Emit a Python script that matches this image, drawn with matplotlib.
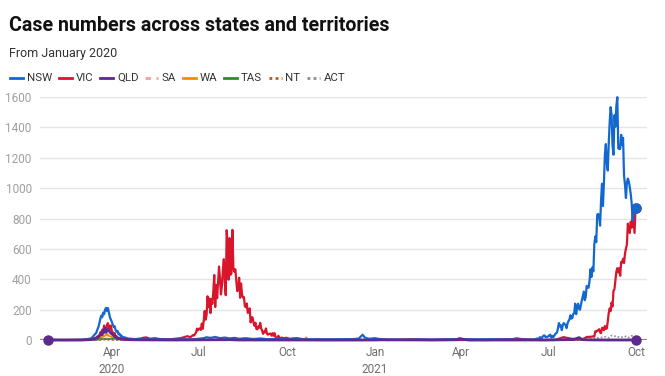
import matplotlib.pyplot as plt
from matplotlib.lines import Line2D
import numpy as np

plt.rcParams["font.family"] = ["Roboto", "DejaVu Sans"]

# day 0 is 25 January 2020
START = np.datetime64("2020-01-25")

# NSW: a few readings in the quiet stretches, daily counts through the waves
nsw_pre_days = [0, 6, 12, 20, 28, 36, 40, 43]
nsw_pre = [0, 1, 0, 0, 1, 2, 4, 8]
nsw_wave1_start = 44
nsw_wave1 = [8, 10, 14, 20, 28, 36, 40, 52, 70, 85, 110, 140, 160, 150, 180, 170,
             200, 212, 190, 210, 180, 150, 135, 120, 100, 85, 90, 65, 55, 60, 38,
             42, 28, 30, 20, 15, 18]
nsw_mid_days = [84, 90, 97, 105, 115, 128, 140, 150, 158, 163, 166, 170, 175, 180,
                185, 190, 195, 200, 207, 215, 222, 230, 240, 250, 260, 270, 281,
                295, 311, 320, 325, 327, 328, 329, 330, 331, 333, 336, 339, 342,
                345, 350, 360, 373, 390, 401, 420, 432, 450, 462, 480, 493, 500, 507]
nsw_mid = [10, 6, 8, 4, 6, 3, 5, 4, 8, 12, 18, 14, 20, 12, 16, 10, 14, 8, 12, 6,
           10, 5, 7, 4, 6, 3, 5, 4, 5, 6, 10, 23, 30, 35, 26, 18, 12, 8, 10, 12,
           8, 5, 3, 2, 4, 3, 5, 6, 4, 5, 4, 3, 2, 3]
nsw_wave3_start = 508
nsw_wave3 = [3, 4, 7, 10, 5, 10, 18, 16, 11, 22, 29, 30, 19, 18, 22,
             24, 31, 35, 16, 27, 18, 27, 38, 44, 50, 77, 112, 89, 97, 65, 97,
             111, 105, 98, 78, 110, 124, 136, 163, 141, 145, 172, 177, 239, 170, 210,
             239, 207, 199, 233, 262, 291, 319, 262, 283, 356, 344, 345, 390, 466,
             415, 478, 452, 633, 681, 644, 825, 830, 818, 753, 919, 1029, 882, 1035,
             1218, 1290, 1164,
             1116, 1288, 1431, 1533, 1485, 1281, 1220, 1480, 1405, 1542, 1599, 1262,
             1257, 1259, 1351, 1284, 1331, 1083, 1022, 935, 1035, 1063, 1043, 1007,
             961, 900, 787, 820, 863, 868]

# VIC
vic_pre_days = [0, 10, 20, 30, 36, 40, 44]
vic_pre = [0, 0, 0, 0, 0, 1, 2]
vic_wave1_start = 45
vic_wave1 = [3, 4, 6, 8, 12, 14, 18, 23, 27, 30, 50, 42, 68, 55, 95, 60, 52, 100,
             111, 85, 70, 95, 60, 50, 30, 45, 20, 25, 12, 15, 8, 10, 6, 8, 5, 4]
vic_mid1_days = [88, 97, 100, 103, 107, 112, 118, 125, 130, 136, 140, 143, 146, 149]
vic_mid1 = [3, 8, 15, 17, 8, 12, 5, 4, 6, 10, 14, 20, 25, 18]
vic_wave2_start = 152
vic_wave2 = [33, 30, 41, 49, 75, 64,
             73, 77, 66, 108, 74, 127, 191, 134, 165, 288, 216, 273, 177, 270, 238,
             317, 428, 217, 363, 275, 374, 484, 403, 300, 357, 459, 532, 384, 295,
             723, 627,
             397, 671, 429, 439, 725, 471, 450, 466, 394, 322, 331, 410, 278, 372,
             303, 279, 282, 222, 216, 240, 179, 182, 208, 116, 148, 149, 113, 94,
             114, 73, 70,
             90, 81, 113, 76, 63, 41, 55, 51, 76, 43, 35, 41, 41, 42, 28, 45, 28,
             45, 21, 14, 11, 28, 15, 14, 12, 16, 5, 12, 9, 15]
vic_mid2_days = [253, 257, 261, 265, 270, 275, 281, 300, 330, 342, 345, 355, 385,
                 390, 400, 430, 460, 485, 490, 495, 500, 505, 515, 530, 536, 539,
                 542, 546, 550, 554, 560, 563, 567]
vic_mid2 = [8, 11, 12, 7, 2, 1, 0, 0, 0, 3, 2, 0, 5, 2, 0, 0, 0, 5, 11, 6, 4, 2,
            0, 0, 13, 19, 14, 10, 5, 6, 8, 20, 21]
vic_wave3_start = 570
vic_wave3 = [24, 24, 57, 55, 61, 65, 71, 50, 45, 80, 79, 64, 92, 73, 76,
             120, 176, 208, 190, 246, 221, 324, 334, 392, 450, 473, 445, 473, 423,
             514, 510, 535, 507, 567, 603, 628, 766, 733, 705, 779, 740, 847, 779,
             705, 867]

# smaller states and territories
qld_days = [0, 20, 36, 43, 47, 50, 52, 54, 56, 57, 58, 59, 60, 61, 62, 63, 64, 65,
            66, 68, 69, 71, 73, 76, 80, 86, 97, 130, 190, 200, 250, 300, 340, 350,
            400, 428, 430, 433, 436, 440, 460, 500, 520, 548, 552, 555, 556, 557,
            560, 565, 580, 600, 614]
qld = [0, 0, 0, 2, 5, 10, 15, 25, 40, 35, 60, 50, 78, 50, 65, 70, 60, 55, 45, 35,
       30, 20, 10, 8, 4, 2, 1, 0, 2, 0, 0, 0, 0, 1, 0, 2, 10, 6, 3, 0, 0, 0, 0, 3,
       9, 16, 13, 4, 2, 1, 0, 0, 0]
sa_days = [0, 40, 45, 50, 53, 55, 57, 59, 61, 62, 63, 65, 67, 69, 72, 76, 80, 90,
           200, 293, 295, 297, 299, 302, 306, 315, 450, 614]
sa = [0, 0, 1, 5, 8, 15, 20, 30, 50, 35, 40, 25, 20, 10, 5, 2, 1, 0, 0, 1, 4, 7,
      5, 3, 1, 0, 0, 1]
wa_days = [0, 40, 45, 50, 54, 57, 59, 61, 63, 65, 67, 70, 74, 80, 90, 100, 200,
           268, 270, 272, 400, 614]
wa = [0, 0, 1, 4, 10, 20, 25, 35, 30, 25, 20, 12, 5, 2, 1, 0, 0, 0, 17, 0, 0, 0]
tas_days = [0, 45, 50, 55, 60, 65, 70, 73, 76, 80, 85, 90, 100, 614]
tas = [0, 0, 1, 5, 8, 6, 10, 15, 12, 8, 5, 2, 0, 0]
nt_days = [0, 50, 55, 60, 65, 70, 80, 614]
nt = [0, 0, 1, 3, 2, 1, 0, 0]
act_days = [0, 50, 55, 60, 63, 66, 70, 75, 85, 560, 565, 567, 570, 573, 576, 580,
            583, 586, 589, 592, 595, 598, 601, 604, 607, 610, 613, 614]
act = [0, 0, 2, 8, 10, 6, 3, 1, 0, 0, 1, 6, 13, 12, 15, 18, 22, 14, 30, 26, 19,
       22, 17, 24, 15, 28, 18, 20]

tick_dates = ["2020-04-01", "2020-07-01", "2020-10-01", "2021-01-01",
              "2021-04-01", "2021-07-01", "2021-10-01"]
tick_labels = ["Apr\n2020", "Jul", "Oct", "Jan\n2021", "Apr", "Jul", "Oct"]
y_ticks = [0, 200, 400, 600, 800, 1000, 1200, 1400, 1600]


def daily(start, values):
    return list(range(start, start + len(values))), list(values)


def stitch(*blocks):
    days, values = [], []
    for d, v in blocks:
        days += list(d)
        values += list(v)
    return START + np.array(days).astype("timedelta64[D]"), np.array(values)


nsw_x, nsw_y = stitch((nsw_pre_days, nsw_pre), daily(nsw_wave1_start, nsw_wave1),
                      (nsw_mid_days, nsw_mid), daily(nsw_wave3_start, nsw_wave3))
vic_x, vic_y = stitch((vic_pre_days, vic_pre), daily(vic_wave1_start, vic_wave1),
                      (vic_mid1_days, vic_mid1), daily(vic_wave2_start, vic_wave2),
                      (vic_mid2_days, vic_mid2), daily(vic_wave3_start, vic_wave3))
qld_x, qld_y = stitch((qld_days, qld))

# name, x, y, colour, linestyle, width, zorder
series = [
    ("NSW", nsw_x, nsw_y, "#1368d0", "-", 1.6, 6),
    ("VIC", vic_x, vic_y, "#d9152b", "-", 1.6, 5),
    ("QLD", qld_x, qld_y, "#5f2a8e", "-", 2.0, 7),
    ("SA", *stitch((sa_days, sa)), "#f2a1a8", (0, (2, 2)), 1.4, 4),
    ("WA", *stitch((wa_days, wa)), "#f28e00", "-", 1.4, 4),
    ("TAS", *stitch((tas_days, tas)), "#2e8b2e", "-", 1.4, 4),
    ("NT", *stitch((nt_days, nt)), "#b8581f", (0, (1, 1.2)), 1.4, 4),
    ("ACT", *stitch((act_days, act)), "#8c8c8c", (0, (1, 1.2)), 1.2, 4),
]

fig = plt.figure(figsize=(6.65, 3.76), dpi=100)
W, H = 665, 376
ax = fig.add_axes([40 / W, 1 - 340 / H, (647 - 40) / W, (340 - 97) / H])

for name, x, y, color, ls, lw, z in series:
    ax.plot(x, y, color=color, linestyle=ls, lw=lw, zorder=z, clip_on=False,
            solid_joinstyle="round")

# end markers
ax.plot(qld_x[0], qld_y[0], "o", color="#5b2a8c", ms=6.5, zorder=9, clip_on=False)
ax.plot(vic_x[-1], vic_y[-1], "o", color="#d9152b", ms=6.5, zorder=8, clip_on=False)
ax.plot(qld_x[-1], qld_y[-1], "o", color="#5b2a8c", ms=6.5, zorder=9, clip_on=False)
ax.plot(nsw_x[-1], nsw_y[-1], "o", color="#1368d0", ms=6.5, zorder=9, clip_on=False)

ax.set_xlim(np.datetime64("2020-01-17"), np.datetime64("2021-10-12"))
ax.set_ylim(0, 1600)
ax.set_yticks(y_ticks)
ax.set_xticks(np.array(tick_dates, dtype="datetime64[D]"))
ax.set_xticklabels(tick_labels, linespacing=1.45)
ax.tick_params(axis="y", length=0, pad=6, labelsize=8.5, labelcolor="#a0a0a0")
ax.tick_params(axis="x", length=0, pad=4, labelsize=8.5, labelcolor="#6e6e6e")
ax.grid(axis="y", color="#e5e5e5", lw=1)
ax.set_axisbelow(True)
for s in ax.spines.values():
    s.set_visible(False)
ax.axhline(0, color="#8a8a8a", lw=1.6, zorder=2)

# titles
fig.text(9 / W, 1 - 31 / H, "Case numbers across states and territories",
         fontsize=14.1, fontweight="bold", color="#111111")
fig.text(9 / W, 1 - 57 / H, "From January 2020", fontsize=9, color="#333333")

# legend drawn by hand so it sits flat under the subtitle
fig.canvas.draw()
renderer = fig.canvas.get_renderer()
x0 = 10
ly = 1 - 78 / H
for name, x, y, color, ls, lw, z in series:
    fig.add_artist(Line2D([x0 / W, (x0 + 13) / W], [ly, ly], color=color,
                          linestyle=ls, lw=2, transform=fig.transFigure))
    t = fig.text((x0 + 17) / W, ly, name, fontsize=8.2, color="#333333",
                 va="center")
    x0 = t.get_window_extent(renderer).x1 + 6.5

fig.savefig("out.png", dpi=100)
